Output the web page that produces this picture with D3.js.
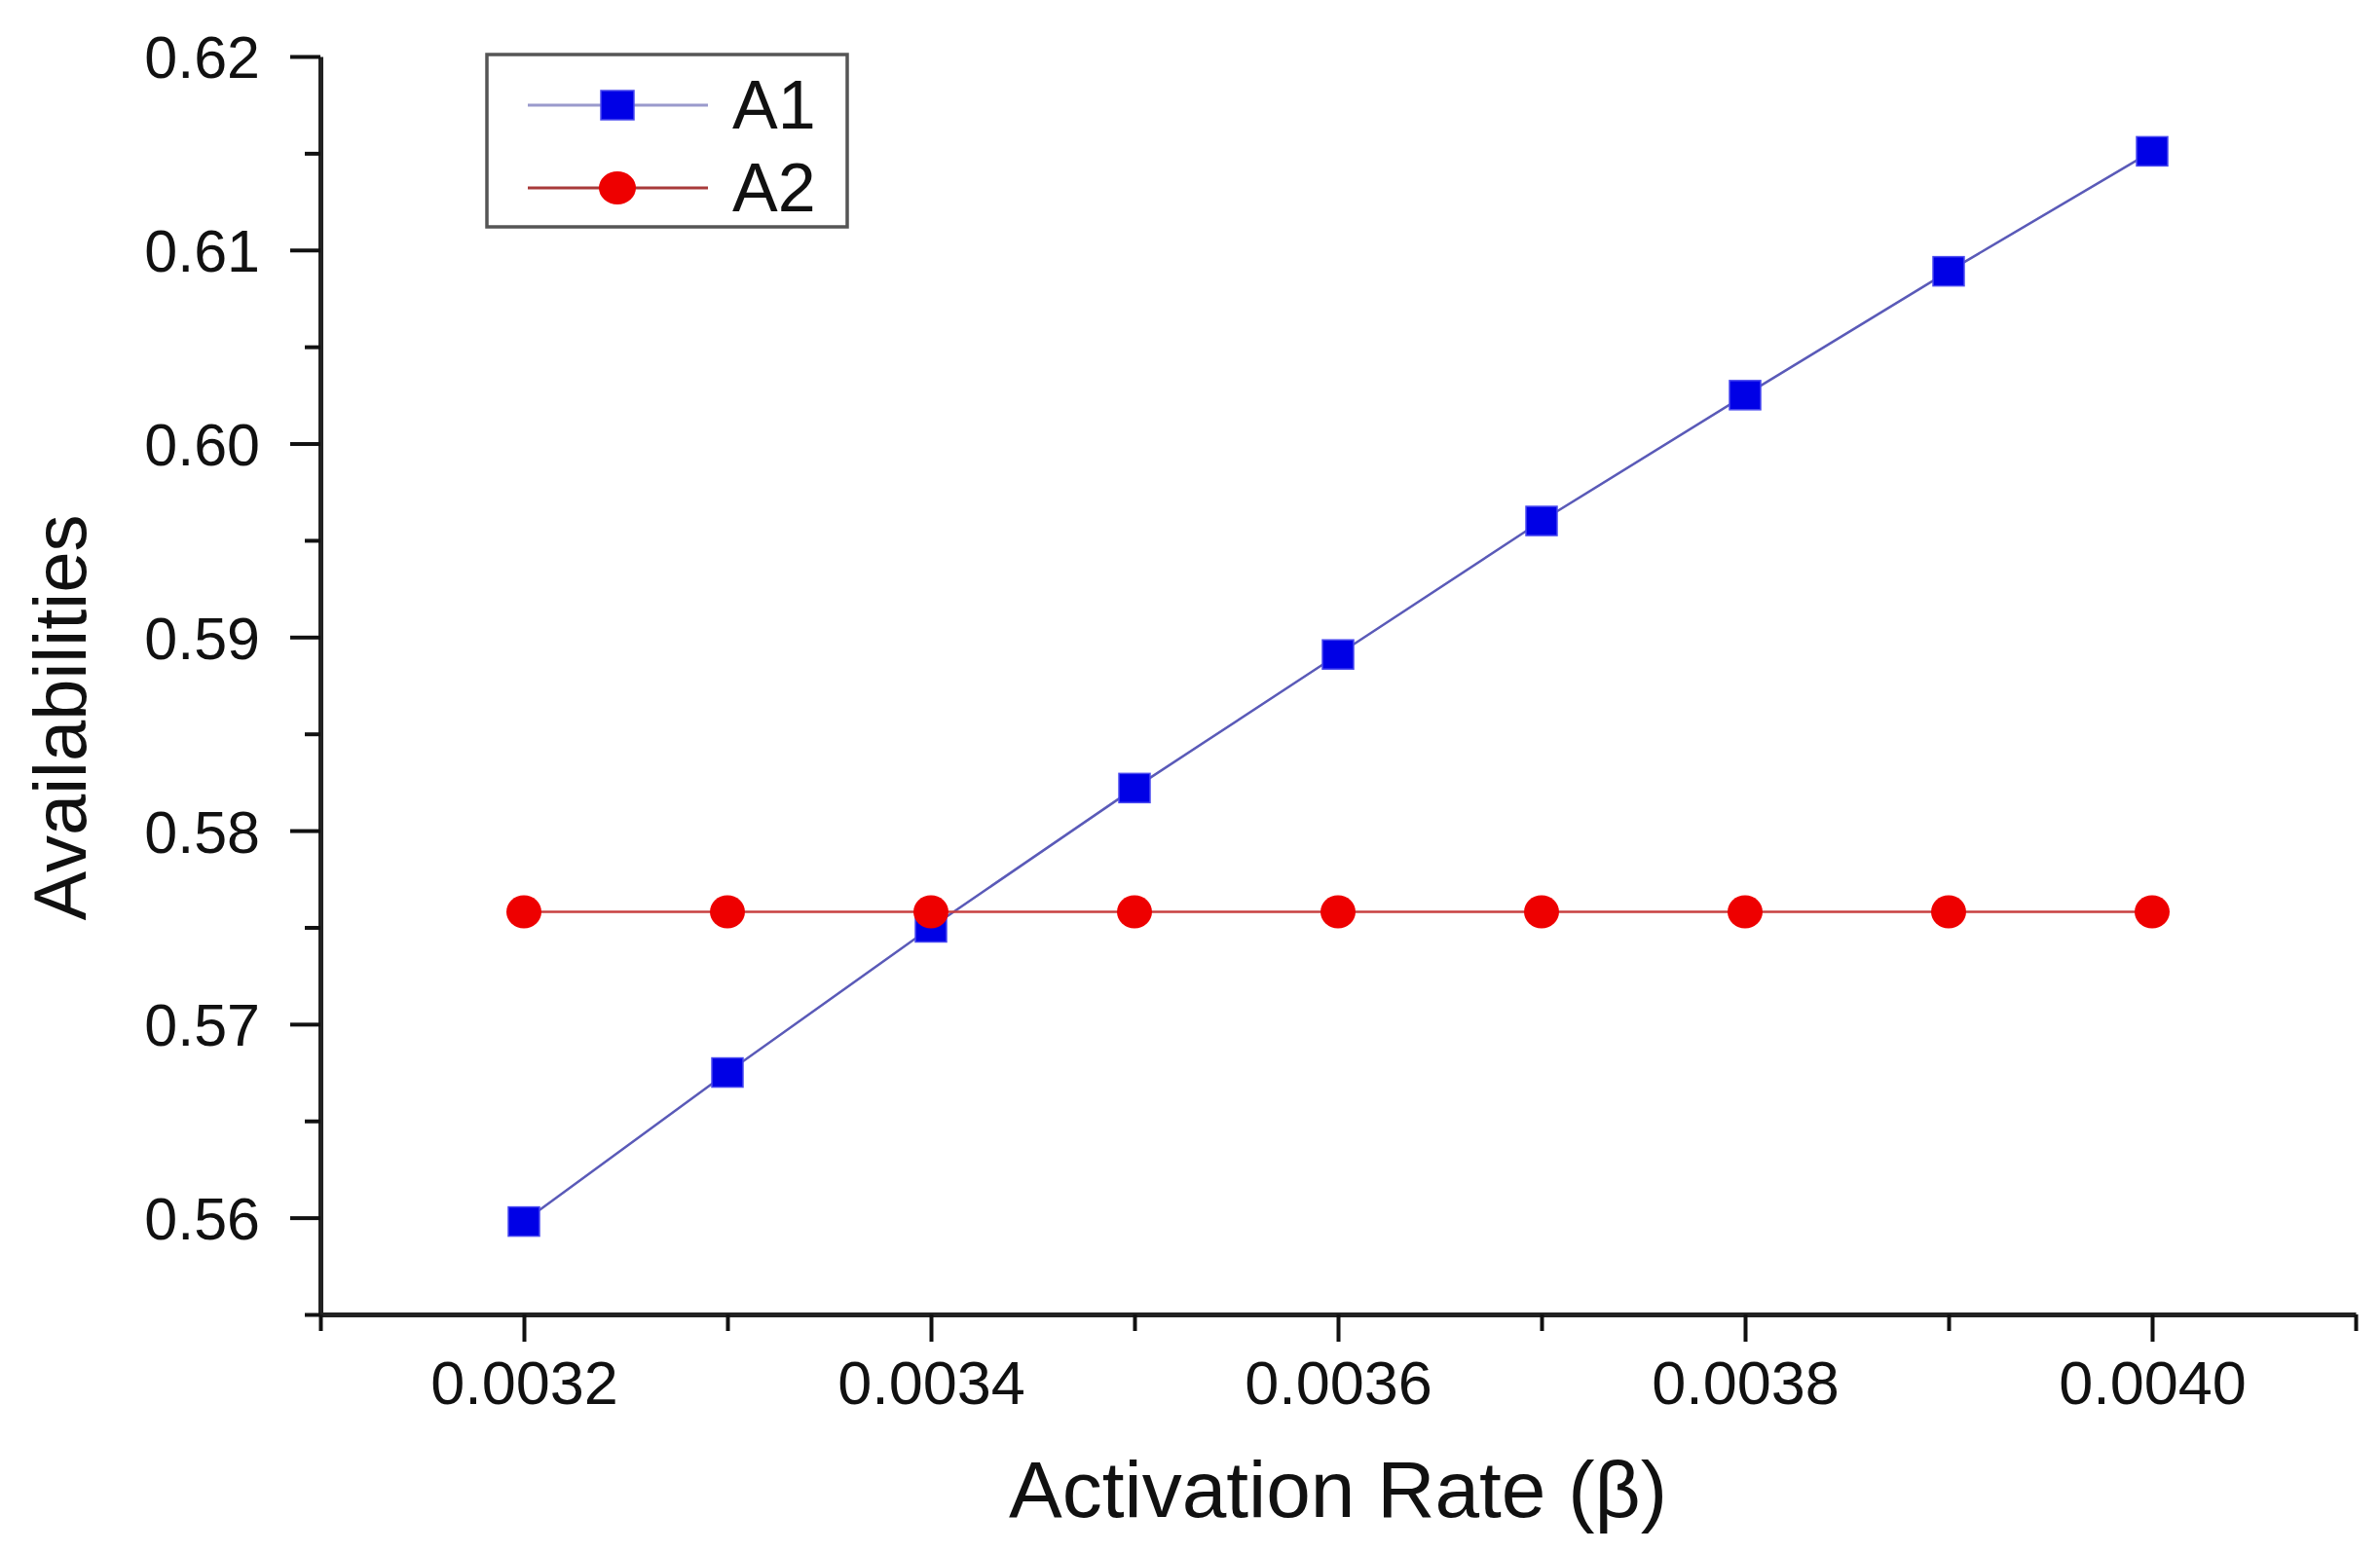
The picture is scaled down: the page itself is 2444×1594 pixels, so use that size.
<!DOCTYPE html>
<html>
<head>
<meta charset="utf-8">
<script src="https://cdn.jsdelivr.net/npm/d3@7"></script>
<style>
  body { margin: 0; background: #fff; }
  text { font-family: "Liberation Sans", Arial, sans-serif; fill: #111; }
</style>
</head>
<body>
<script>
// data
var rates = [0.0032, 0.0033, 0.0034, 0.0035, 0.0036, 0.0037, 0.0038, 0.0039, 0.0040];
var a1 = [0.5598, 0.5675, 0.5750, 0.5822, 0.5891, 0.5960, 0.6025, 0.6089, 0.6151];
var a2 = [0.5758, 0.5758, 0.5758, 0.5758, 0.5758, 0.5758, 0.5758, 0.5758, 0.5758];
var xMajor = [0.0032, 0.0034, 0.0036, 0.0038, 0.0040];
var xMinor = [0.0031, 0.0033, 0.0035, 0.0037, 0.0039, 0.0041];
var yMajor = [0.56, 0.57, 0.58, 0.59, 0.60, 0.61, 0.62];
var yMinor = [0.555, 0.565, 0.575, 0.585, 0.595, 0.605, 0.615];

var width = 2444,
    height = 1594;

var plotLeft = 329, plotRight = 2419, plotTop = 58, plotBottom = 1350;

var x = d3.scaleLinear().domain([0.0031, 0.0041]).range([plotLeft, plotRight]);
var y = d3.scaleLinear().domain([0.555, 0.62]).range([plotBottom, plotTop]);

var svg = d3.select("body").append("svg")
    .attr("width", width)
    .attr("height", height);

// axes
var xAxis = svg.append("g")
    .attr("transform", "translate(0," + plotBottom + ")")
    .call(d3.axisBottom(x).tickValues(xMajor).tickFormat(d3.format(".4f"))
        .tickSize(28).tickSizeOuter(0).tickPadding(19));

svg.append("g")
    .attr("transform", "translate(0," + plotBottom + ")")
    .call(d3.axisBottom(x).tickValues(xMinor).tickFormat("").tickSize(17).tickSizeOuter(0))
    .select(".domain").remove();

var yAxis = svg.append("g")
    .attr("transform", "translate(" + plotLeft + ",0)")
    .call(d3.axisLeft(y).tickValues(yMajor).tickFormat(d3.format(".2f"))
        .tickSize(31).tickSizeOuter(0).tickPadding(31));

svg.append("g")
    .attr("transform", "translate(" + plotLeft + ",0)")
    .call(d3.axisLeft(y).tickValues(yMinor).tickFormat("").tickSize(16).tickSizeOuter(0))
    .select(".domain").remove();

svg.selectAll(".tick line").attr("stroke", "#111").attr("stroke-width", 4);
svg.selectAll(".domain").attr("stroke", "#222").attr("stroke-width", 5);
xAxis.selectAll(".tick text").style("font-size", "63px").attr("fill", "#111");
yAxis.selectAll(".tick text").style("font-size", "61px").attr("fill", "#111").attr("dy", "0.36em");

// axis titles
svg.append("text")
    .attr("x", 1374)
    .attr("y", 1558)
    .attr("text-anchor", "middle")
    .style("font-size", "82px")
    .text("Activation Rate (β)");

svg.append("text")
    .attr("transform", "translate(88,737) rotate(-90)")
    .attr("text-anchor", "middle")
    .style("font-size", "76px")
    .text("Availabilities");

var line = d3.line()
    .x(function(d, i) { return x(rates[i]); })
    .y(function(d) { return y(d); });

// A1
svg.append("path")
    .datum(a1)
    .attr("fill", "none")
    .attr("stroke", "#5a5ab8")
    .attr("stroke-width", 2.5)
    .attr("d", line);

svg.selectAll(".sq")
    .data(a1)
    .enter()
    .append("rect")
    .attr("class", "sq")
    .attr("x", function(d, i) { return x(rates[i]) - 16; })
    .attr("y", function(d) { return y(d) - 15; })
    .attr("width", 32)
    .attr("height", 30)
    .attr("fill", "#0000e6")
    .attr("stroke", "#4a4af0")
    .attr("stroke-width", 1.5);

// A2
svg.append("path")
    .datum(a2)
    .attr("fill", "none")
    .attr("stroke", "#c84040")
    .attr("stroke-width", 2.5)
    .attr("d", line);

svg.selectAll(".dot")
    .data(a2)
    .enter()
    .append("ellipse")
    .attr("class", "dot")
    .attr("cx", function(d, i) { return x(rates[i]); })
    .attr("cy", function(d) { return y(d); })
    .attr("rx", 18)
    .attr("ry", 17)
    .attr("fill", "#ee0000");

// legend
var legend = svg.append("g");
legend.append("rect")
    .attr("x", 500).attr("y", 56)
    .attr("width", 370).attr("height", 177)
    .attr("fill", "#fff")
    .attr("stroke", "#555")
    .attr("stroke-width", 3.5);

var items = [
  {name: "A1", line: "#9a9acc", cy: 108, base: 132},
  {name: "A2", line: "#a83a3a", cy: 193, base: 217}
];

items.forEach(function(it, i) {
  legend.append("line")
      .attr("x1", 542).attr("x2", 727)
      .attr("y1", it.cy).attr("y2", it.cy)
      .attr("stroke", it.line)
      .attr("stroke-width", 3);
  if (i == 0) {
    legend.append("rect")
        .attr("x", 617).attr("y", it.cy - 15)
        .attr("width", 34).attr("height", 30)
        .attr("fill", "#0000e6")
        .attr("stroke", "#4a4af0")
        .attr("stroke-width", 1.5);
  } else {
    legend.append("ellipse")
        .attr("cx", 634).attr("cy", it.cy)
        .attr("rx", 19).attr("ry", 17)
        .attr("fill", "#ee0000");
  }
  legend.append("text")
      .attr("x", 752).attr("y", it.base)
      .style("font-size", "70px")
      .text(it.name);
});
</script>
</body>
</html>
